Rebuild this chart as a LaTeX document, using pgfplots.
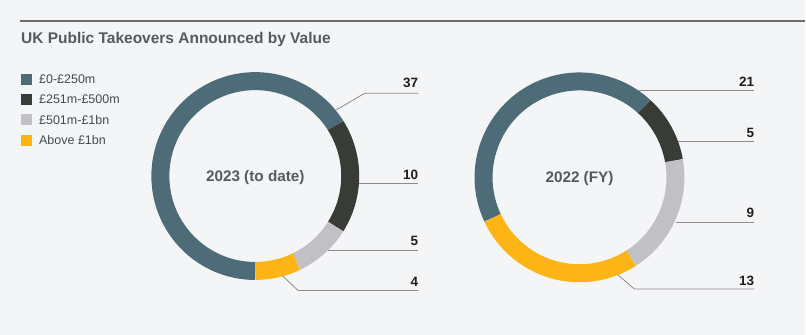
\documentclass[border=0pt]{standalone}
\usepackage{pgfplots}
\pgfplotsset{compat=1.18}
\usepackage{pgfplotstable}
\usepackage{fontspec}
\setmainfont{Liberation Sans}

\definecolor{bg}{HTML}{F4F5F7}
\definecolor{cA}{HTML}{4E6B78}
\definecolor{cB}{HTML}{383B36}
\definecolor{cC}{HTML}{C1C1C5}
\definecolor{cD}{HTML}{FDB516}
\definecolor{titlec}{HTML}{555A5F}
\definecolor{legc}{HTML}{474A4D}
\definecolor{numc}{HTML}{1E1E1E}
\definecolor{leadc}{HTML}{8C8C8C}

\pgfplotstableread{
value col
37 cA
10 cB
5 cC
4 cD
}\dataA

\pgfplotstableread{
value col
21 cA
5 cB
9 cC
13 cD
}\dataB

% #1 table, #2 cx, #3 cy, #4 mid radius, #5 start angle
\newcommand\donut[5]{%
  \gdef\dtot{0}%
  \pgfplotstableforeachcolumnelement{value}\of#1\as\cell{%
    \pgfmathparse{\dtot+\cell}\xdef\dtot{\pgfmathresult}}%
  \gdef\dang{#5}%
  \pgfplotstableforeachcolumnelement{value}\of#1\as\cell{%
    \pgfplotstablegetelem{\pgfplotstablerow}{col}\of#1%
    \let\ccol\pgfplotsretval
    \pgfmathparse{\dang-\cell/\dtot*360}\let\dend\pgfmathresult
    \edef\temp{\noexpand\draw[line width=18pt,color=\ccol] (axis cs:#2,#3) ++(\dang:#4pt) arc[start angle=\dang,end angle=\dend,radius=#4pt];}%
    \temp
    \xdef\dang{\dend}}%
}

\begin{document}
\begin{tikzpicture}
\begin{axis}[
  width=806pt, height=335pt, scale only axis,
  xmin=0, xmax=806, ymin=0, ymax=335,
  hide axis, clip=false,
]
\fill[bg] (axis cs:0,0) rectangle (axis cs:806,335);
\draw[color=gray!85!black, line width=1.4pt] (axis cs:20,314) -- (axis cs:806,314);
\node[anchor=base west, inner sep=0, text=titlec, font=\fontsize{15.5pt}{18pt}\selectfont\bfseries] at (axis cs:21,291) {UK Public Takeovers Announced by Value};

% legend
\fill[cA] (axis cs:21,250.2) rectangle (axis cs:32,261.2);
\fill[cB] (axis cs:21,229.7) rectangle (axis cs:32,240.7);
\fill[cC] (axis cs:21,209.7) rectangle (axis cs:32,220.7);
\fill[cD] (axis cs:21,189.3) rectangle (axis cs:32,200.3);
\begin{scope}[every node/.style={anchor=base west, inner sep=0, text=legc, font=\fontsize{12.5pt}{15pt}\selectfont}]
\node at (axis cs:39,251.5) {£0-£250m};
\node at (axis cs:39,231) {£251m-£500m};
\node at (axis cs:39,210.7) {£501m-£1bn};
\node at (axis cs:39,190.3) {Above £1bn};
\end{scope}

% donuts
\donut{\dataA}{255.5}{158.8}{95}{-90}
\donut{\dataB}{580}{157.5}{96}{-155}

\node[anchor=base, inner sep=0, text=titlec, font=\fontsize{15.3pt}{18pt}\selectfont\bfseries] at (axis cs:255.5,153.3) {2023 (to date)};
\node[anchor=base, inner sep=0, text=titlec, font=\fontsize{15.3pt}{18pt}\selectfont\bfseries] at (axis cs:580,152) {2022 (FY)};

% leader lines
\addplot[leadc, line width=0.8pt, no markers] coordinates {(336.7,225) (365,241.7) (418.7,241.7)};
\addplot[leadc, line width=0.8pt, no markers] coordinates {(359.3,151.3) (418.7,151.3)};
\addplot[leadc, line width=0.8pt, no markers] coordinates {(328.3,84.7) (418.7,84.7)};
\addplot[leadc, line width=0.8pt, no markers] coordinates {(282.7,59) (298.3,44.3) (418.7,44.3)};
\addplot[leadc, line width=0.8pt, no markers] coordinates {(640,244.3) (755,244.3)};
\addplot[leadc, line width=0.8pt, no markers] coordinates {(678.3,193.3) (755,193.3)};
\addplot[leadc, line width=0.8pt, no markers] coordinates {(676.7,112.7) (755,112.7)};
\addplot[leadc, line width=0.8pt, no markers] coordinates {(618.3,60) (635,45.7) (755,45.7)};

\begin{scope}[every node/.style={anchor=base east, inner sep=0, text=numc, font=\fontsize{13.5pt}{16pt}\selectfont\bfseries}]
\node at (axis cs:418.7,247) {37};
\node at (axis cs:418.7,155) {10};
\node at (axis cs:418.7,89.3) {5};
\node at (axis cs:418.7,48.3) {4};
\node at (axis cs:755,248.3) {21};
\node at (axis cs:755,197.3) {5};
\node at (axis cs:755,117.3) {9};
\node at (axis cs:755,49.7) {13};
\end{scope}
\end{axis}
\end{tikzpicture}
\end{document}
